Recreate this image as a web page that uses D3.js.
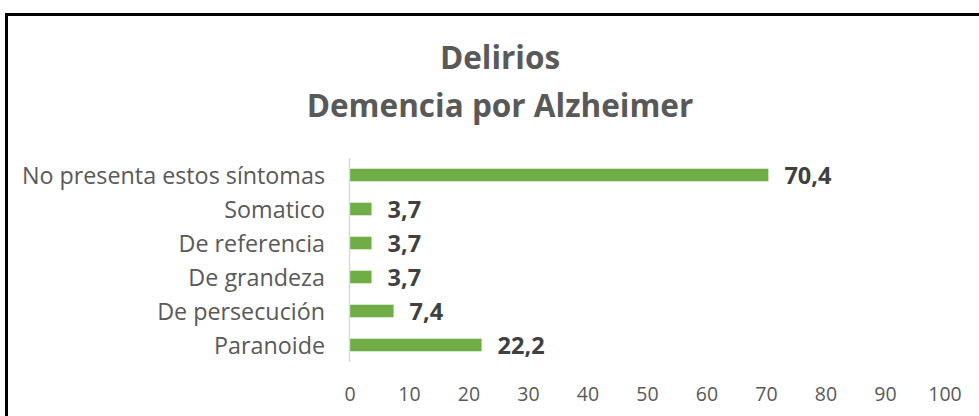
<!DOCTYPE html>
<html><head><meta charset="utf-8">
<script src="https://cdn.jsdelivr.net/npm/d3@7"></script>
<style>body{margin:0;background:#fff}svg{display:block}</style>
</head><body>
<svg id="c" width="979" height="416"></svg>
<script>
const titleLines = ["Delirios", "Demencia por Alzheimer"];
const categories = ["No presenta estos síntomas", "Somatico", "De referencia", "De grandeza", "De persecución", "Paranoide"];
const values = [70.4, 3.7, 3.7, 3.7, 7.4, 22.2];
const valueLabels = ["70,4", "3,7", "3,7", "3,7", "7,4", "22,2"];
const xTicks = [0, 10, 20, 30, 40, 50, 60, 70, 80, 90, 100];

const font = "'Open Sans', sans-serif";
const svg = d3.select("#c");
svg.append("rect").attr("x", 6.5).attr("y", 14.5).attr("width", 990).attr("height", 420)
  .attr("fill", "#fff").attr("stroke", "#000").attr("stroke-width", 3);

svg.selectAll("text.title").data(titleLines).join("text")
  .attr("x", 500).attr("y", (d, i) => 69 + i * 47.5)
  .attr("text-anchor", "middle").attr("font-family", font).attr("font-weight", "bold")
  .attr("font-size", 31.5).attr("fill", "#595959").text(d => d);

const x = d3.scaleLinear().domain([0, 100]).range([349.5, 944.5]);
const y = d3.scaleBand().domain(categories).range([158, 362]).paddingInner(0.63).paddingOuter(0.315);

const g = svg.append("g");
g.selectAll("rect.bar").data(categories).join("rect")
  .attr("x", x(0)).attr("y", d => y(d)).attr("height", y.bandwidth())
  .attr("width", (d, i) => x(values[i]) - x(0)).attr("fill", "#70AD47");

g.append("line").attr("x1", x(0)).attr("x2", x(0)).attr("y1", 158).attr("y2", 362)
  .attr("stroke", "#D9D9D9").attr("stroke-width", 1.5);

g.selectAll("text.cat").data(categories).join("text")
  .attr("x", 325).attr("y", d => y(d) + y.bandwidth() / 2 + 9)
  .attr("text-anchor", "end").attr("font-family", font).attr("font-size", 23.3)
  .attr("fill", "#595959").text(d => d);

g.selectAll("text.val").data(categories).join("text")
  .attr("x", (d, i) => x(values[i]) + 16).attr("y", d => y(d) + y.bandwidth() / 2 + 9)
  .attr("font-family", font).attr("font-weight", "bold").attr("font-size", 23.5)
  .attr("fill", "#404040").text((d, i) => valueLabels[i]);

const ax = svg.append("g").attr("transform", "translate(0,400.5)")
  .call(d3.axisBottom(x).tickValues(xTicks).tickSize(0).tickPadding(0).tickFormat(d => String(d)));
ax.select(".domain").remove();
ax.selectAll("text").attr("font-family", font).attr("font-size", 19.5).attr("fill", "#595959").attr("dy", 0);
</script>
</body></html>
